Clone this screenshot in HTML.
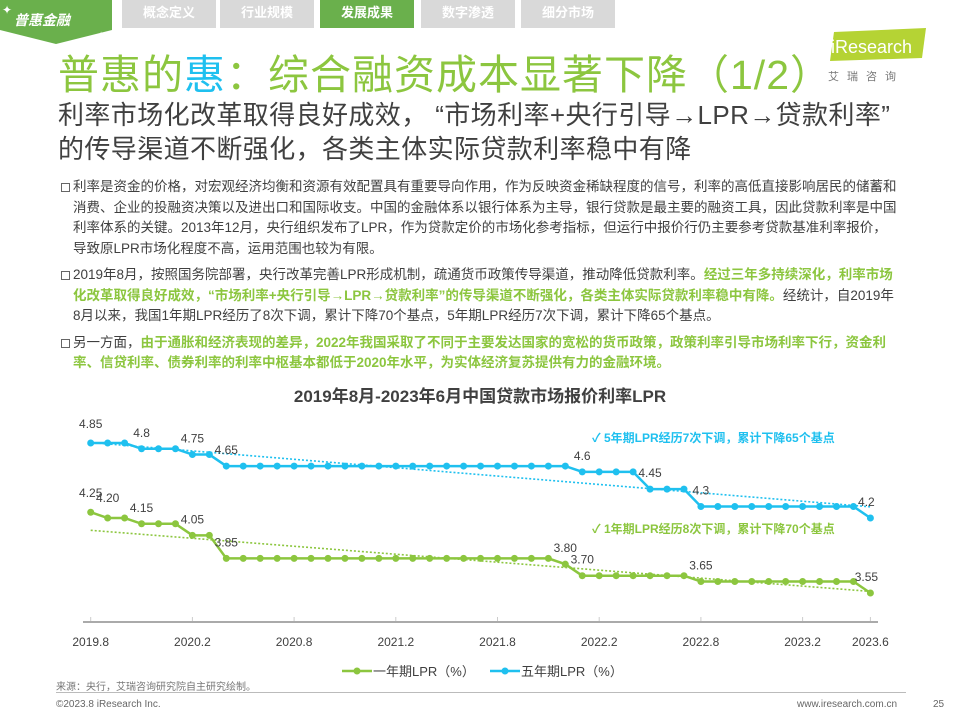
<!DOCTYPE html>
<html><head><meta charset="utf-8">
<style>
body{margin:0;width:960px;height:720px;background:#fff;position:relative;overflow:hidden;font-family:"Liberation Sans","Noto Sans CJK SC",sans-serif;}
.abs{position:absolute;}
.tab{position:absolute;top:0;height:28px;width:94px;background:#d9d9d9;color:#fff;font-size:13px;font-weight:bold;text-align:center;line-height:26px;}
.body{position:absolute;left:61px;top:177px;width:838px;font-size:13.5px;color:#404040;line-height:20.5px;}
.para{position:relative;padding-left:12px;margin-bottom:6px;}
.para:before{content:"";position:absolute;left:0;top:6px;width:7px;height:7px;border:1px solid #666;}
.g{color:#8cc63f;font-weight:bold;}
</style></head><body>
<svg class="abs" style="left:0;top:0" width="115" height="48">
<polygon points="0,0 112,0 112,30 56,44 0,30" fill="#6ab04c"/>
<text x="14" y="25" fill="#fff" font-size="14" font-weight="bold" font-style="italic" font-family="Liberation Sans,Noto Sans CJK SC,sans-serif">普惠金融</text>
<text x="2" y="14" fill="#fff" font-size="12">✦</text>
<text x="96" y="40" fill="#fff" font-size="12">✦</text>
</svg>
<div class="tab" style="left:122px">概念定义</div>
<div class="tab" style="left:220px">行业规模</div>
<div class="tab" style="left:320px;background:#6ab04c">发展成果</div>
<div class="tab" style="left:421px">数字渗透</div>
<div class="tab" style="left:521px">细分市场</div>
<div class="abs" style="left:58px;top:41px;font-size:41px;color:#8cc63f;white-space:nowrap;letter-spacing:1px">普惠的<span style="color:#1fc0ef">惠</span>：综合融资成本显著下降（1/2）</div>
<svg class="abs" style="left:826px;top:28px" width="110" height="60">
<polygon points="8,4 100,0 96,30 4,33" fill="#b5d334"/>
<text x="5" y="25" fill="#fff" font-size="18" font-family="Liberation Sans,sans-serif">iResearch</text>
<text x="2" y="52" fill="#777" font-size="11" letter-spacing="8" font-family="Liberation Sans,Noto Sans CJK SC,sans-serif">艾瑞咨询</text>
</svg>
<div class="abs" style="left:58px;top:98px;font-size:26px;letter-spacing:0.4px;color:#404040;line-height:34px;white-space:nowrap">利率市场化改革取得良好成效， “市场利率+央行引导→LPR→贷款利率”<br>的传导渠道不断强化，各类主体实际贷款利率稳中有降</div>
<div class="body">
<div class="para">利率是资金的价格，对宏观经济均衡和资源有效配置具有重要导向作用，作为反映资金稀缺程度的信号，利率的高低直接影响居民的储蓄和消费、企业的投融资决策以及进出口和国际收支。中国的金融体系以银行体系为主导，银行贷款是最主要的融资工具，因此贷款利率是中国利率体系的关键。2013年12月，央行组织发布了LPR，作为贷款定价的市场化参考指标，但运行中报价行仍主要参考贷款基准利率报价，导致原LPR市场化程度不高，运用范围也较为有限。</div>
<div class="para">2019年8月，按照国务院部署，央行改革完善LPR形成机制，疏通货币政策传导渠道，推动降低贷款利率。<span class="g">经过三年多持续深化，利率市场化改革取得良好成效，“市场利率+央行引导→LPR→贷款利率”的传导渠道不断强化，各类主体实际贷款利率稳中有降。</span>经统计，自2019年8月以来，我国1年期LPR经历了8次下调，累计下降70个基点，5年期LPR经历7次下调，累计下降65个基点。</div>
<div class="para">另一方面，<span class="g">由于通胀和经济表现的差异，2022年我国采取了不同于主要发达国家的宽松的货币政策，政策利率引导市场利率下行，资金利率、信贷利率、债券利率的利率中枢基本都低于2020年水平，为实体经济复苏提供有力的金融环境。</span></div>
</div>
<svg id="chart" class="abs" style="left:0;top:380px" width="960" height="310"></svg>
<div class="abs" style="left:56px;top:678px;font-size:10px;color:#777">来源：央行，艾瑞咨询研究院自主研究绘制。</div>
<div class="abs" style="left:56px;top:692px;width:850px;height:1px;background:#bbb"></div>
<div class="abs" style="left:56px;top:699px;font-size:10px;color:#666">©2023.8 iResearch Inc.</div>
<div class="abs" style="left:797px;top:699px;font-size:10px;color:#666">www.iresearch.com.cn</div>
<div class="abs" style="left:933px;top:699px;font-size:10px;color:#666">25</div>
<script>
const oneYear=[4.25,4.20,4.20,4.15,4.15,4.15,4.05,4.05,3.85,3.85,3.85,3.85,3.85,3.85,3.85,3.85,3.85,3.85,3.85,3.85,3.85,3.85,3.85,3.85,3.85,3.85,3.85,3.85,3.80,3.70,3.70,3.70,3.70,3.70,3.70,3.70,3.65,3.65,3.65,3.65,3.65,3.65,3.65,3.65,3.65,3.65,3.55];
const fiveYear=[4.85,4.85,4.85,4.80,4.80,4.80,4.75,4.75,4.65,4.65,4.65,4.65,4.65,4.65,4.65,4.65,4.65,4.65,4.65,4.65,4.65,4.65,4.65,4.65,4.65,4.65,4.65,4.65,4.65,4.60,4.60,4.60,4.60,4.45,4.45,4.45,4.30,4.30,4.30,4.30,4.30,4.30,4.30,4.30,4.30,4.30,4.20];
const tickLabels=["2019.8","2020.2","2020.8","2021.2","2021.8","2022.2","2022.8","2023.2","2023.6"];
const tickIdx=[0,6,12,18,24,30,36,42,46];
const oneLabels=[[0,"4.25"],[1,"4.20"],[3,"4.15"],[6,"4.05"],[8,"3.85"],[28,"3.80"],[29,"3.70"],[36,"3.65"],[46,"3.55"]];
const fiveLabels=[[0,"4.85"],[3,"4.8"],[6,"4.75"],[8,"4.65"],[29,"4.6"],[33,"4.45"],[36,"4.3"],[46,"4.2"]];
const NS="http://www.w3.org/2000/svg";
const svg=document.getElementById('chart');
const OY=380;
const x=i=>90.7+i*16.95;
const y=v=>443-OY+(4.85-v)*115.4;
function mk(t,a,p){const e=document.createElementNS(NS,t);for(const k in a)e.setAttribute(k,a[k]);(p||svg).appendChild(e);return e;}
const F='Liberation Sans,Noto Sans CJK SC,sans-serif';
let t=mk('text',{x:480,y:22,'text-anchor':'middle','font-size':17,'font-weight':'bold',fill:'#404040','font-family':F});t.textContent='2019年8月-2023年6月中国贷款市场报价利率LPR';


let ax=mk('line',{x1:83,x2:878,y1:242,y2:242,stroke:'#aaa','stroke-width':2});


tickIdx.forEach((ti,k)=>{
 mk('line',{x1:x(ti),x2:x(ti),y1:237,y2:241,stroke:'#ccc'});
 const l=mk('text',{x:x(ti),y:266,'text-anchor':'middle','font-size':12,fill:'#404040','font-family':F});l.textContent=tickLabels[k];
 
 
});
function trend(arr,col,name){const n=arr.length;let sx=0,sy=0,sxx=0,sxy=0;arr.forEach((v,i)=>{sx+=i;sy+=v;sxx+=i*i;sxy+=i*v;});const b=(n*sxy-sx*sy)/(n*sxx-sx*sx),a=(sy-b*sx)/n;
 const l=mk('line',{x1:x(0),y1:y(a),x2:x(n-1),y2:y(a+b*(n-1)),stroke:col,'stroke-width':1.6,'stroke-dasharray':'2 2'});
 
 }
trend(fiveYear,'#1fc0ef','five-year-trendline');
trend(oneYear,'#8cc63f','one-year-trendline');
function series(arr,col,name,labels){
 const p=mk('polyline',{points:arr.map((v,i)=>x(i)+','+y(v)).join(' '),fill:'none',stroke:col,'stroke-width':2.5});
 
 
 arr.forEach((v,i)=>{const c=mk('circle',{cx:x(i),cy:y(v),r:3.5,fill:col});
  
  });
 labels.forEach(([i,s])=>{const l=mk('text',{x:x(i)+(i==46?-4:0),y:y(arr[i])-(i==1?16:i==0?15:12),'text-anchor':'middle','font-size':12,fill:'#404040','font-family':F});l.textContent=s;
  
  });
}
series(fiveYear,'#1fc0ef','five-year',fiveLabels);
series(oneYear,'#8cc63f','one-year',oneLabels);
let a1=mk('text',{x:592,y:62,'font-size':12,'font-weight':'bold',fill:'#1fc0ef','font-family':F});a1.textContent='✓  5年期LPR经历7次下调，累计下降65个基点';


let a2=mk('text',{x:592,y:153,'font-size':12,'font-weight':'bold',fill:'#8cc63f','font-family':F});a2.textContent='✓  1年期LPR经历8次下调，累计下降70个基点';


function leg(x0,col,txt,name){const g=mk('g',{});
 
 
 mk('line',{x1:x0,x2:x0+30,y1:291,y2:291,stroke:col,'stroke-width':2.5},g);mk('circle',{cx:x0+15,cy:291,r:3.5,fill:col},g);
 const l=mk('text',{x:x0+31,y:296,'font-size':13,fill:'#404040','font-family':F},g);l.textContent=txt;}
leg(342,'#8cc63f','一年期LPR（%）','legend-one-year');
leg(490,'#1fc0ef','五年期LPR（%）','legend-five-year');
</script>
</body></html>
